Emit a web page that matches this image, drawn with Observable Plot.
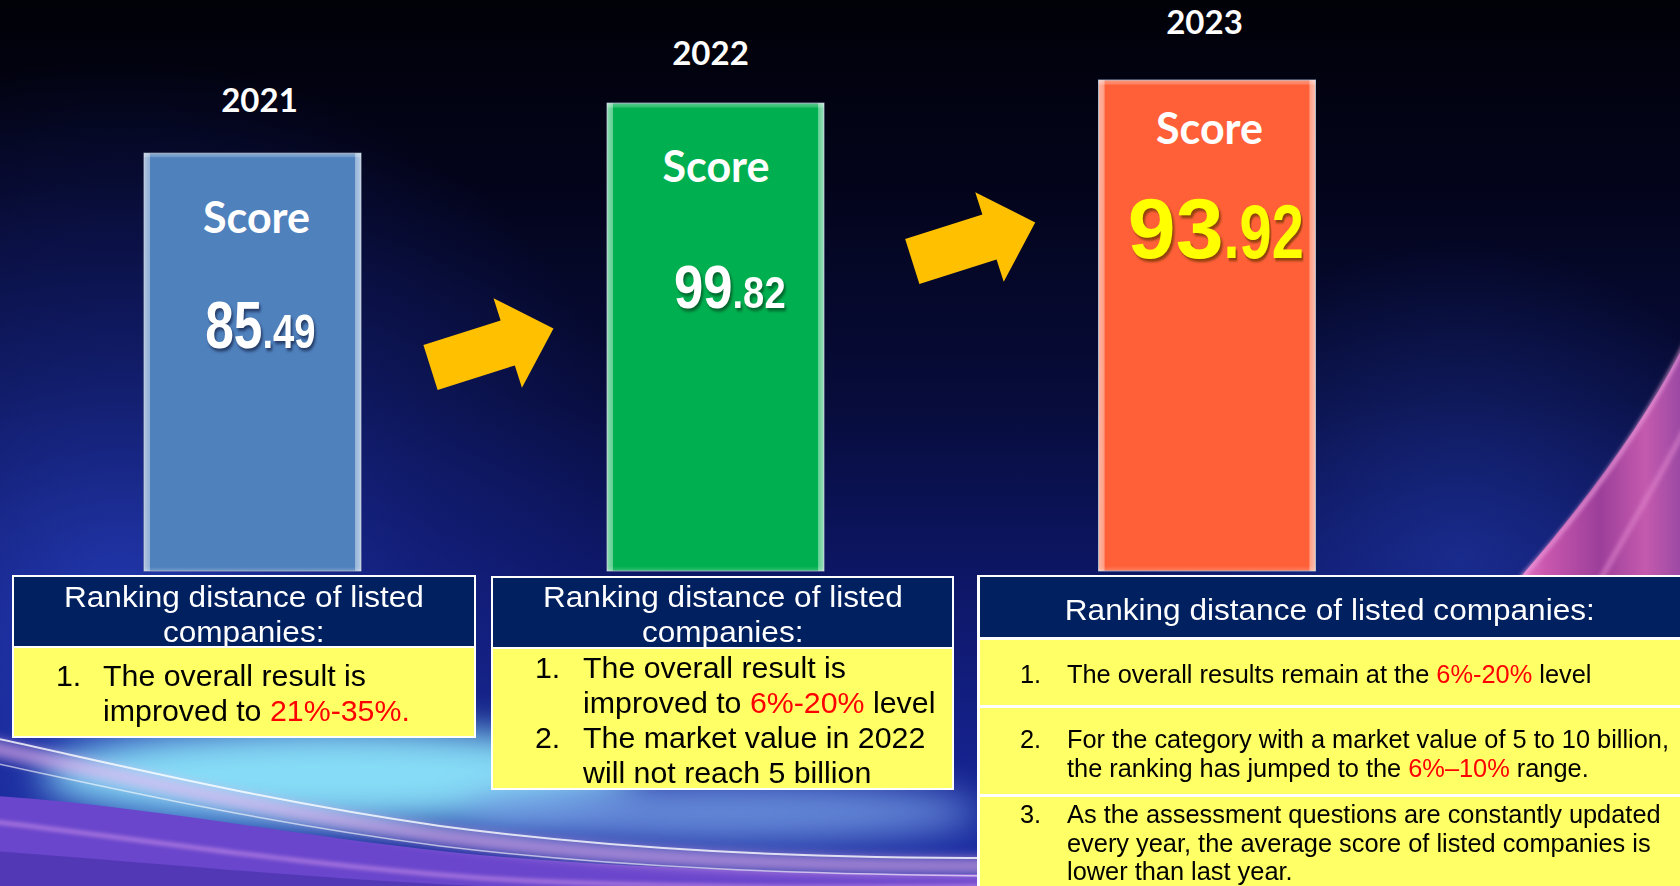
<!DOCTYPE html>
<html><head><meta charset="utf-8">
<script src="https://cdn.jsdelivr.net/npm/d3@7"></script>
<script src="https://cdn.jsdelivr.net/npm/@observablehq/plot@0.6"></script>
<style>
html,body{margin:0;padding:0;background:#02030a;overflow:hidden}
#slide{position:relative;width:1680px;height:886px;overflow:hidden}
#bg{position:absolute;left:0;top:0}
#chart{position:absolute;left:0;top:0}
#notes{position:absolute;left:0;top:575px;width:1680px;height:311px}
</style></head><body>
<div id="slide">
<svg id="bg" width="1680" height="886" xmlns="http://www.w3.org/2000/svg">
<defs>
 <linearGradient id="bgBase" x1="0" y1="0" x2="0" y2="1">
  <stop offset="0" stop-color="#010108"/>
  <stop offset="0.2" stop-color="#03041a"/>
  <stop offset="0.45" stop-color="#070c3a"/>
  <stop offset="0.65" stop-color="#0d1665"/>
  <stop offset="0.85" stop-color="#15228c"/>
  <stop offset="1" stop-color="#1c2ea6"/>
 </linearGradient>
 <radialGradient id="glowL" gradientUnits="userSpaceOnUse" cx="120" cy="620" r="560">
  <stop offset="0" stop-color="#2a44c8" stop-opacity="0.75"/>
  <stop offset="0.6" stop-color="#1b2c9c" stop-opacity="0.35"/>
  <stop offset="1" stop-color="#1b2c9c" stop-opacity="0"/>
 </radialGradient>
 <radialGradient id="glowR" gradientUnits="userSpaceOnUse" cx="1460" cy="560" r="320">
  <stop offset="0" stop-color="#2540b8" stop-opacity="0.5"/>
  <stop offset="1" stop-color="#2540b8" stop-opacity="0"/>
 </radialGradient>
 <linearGradient id="pinkBand" x1="0" y1="0" x2="1" y2="0">
  <stop offset="0" stop-color="#e47ccb"/>
  <stop offset="0.15" stop-color="#c957ae"/>
  <stop offset="0.45" stop-color="#9c3f9a"/>
  <stop offset="0.7" stop-color="#c45aae"/>
  <stop offset="1" stop-color="#86409f"/>
 </linearGradient>
 <linearGradient id="bevelH" x1="0" x2="1" y1="0" y2="0">
  <stop offset="0" stop-color="#ffffff" stop-opacity="0.55"/>
  <stop offset="0.026" stop-color="#ffffff" stop-opacity="0.38"/>
  <stop offset="0.03" stop-color="#ffffff" stop-opacity="0"/>
  <stop offset="0.97" stop-color="#ffffff" stop-opacity="0"/>
  <stop offset="0.974" stop-color="#ffffff" stop-opacity="0.4"/>
  <stop offset="1" stop-color="#ffffff" stop-opacity="0.6"/>
 </linearGradient>
 <linearGradient id="bevelV" x1="0" x2="0" y1="0" y2="1">
  <stop offset="0" stop-color="#ffffff" stop-opacity="0.35"/>
  <stop offset="0.008" stop-color="#ffffff" stop-opacity="0.2"/>
  <stop offset="0.011" stop-color="#ffffff" stop-opacity="0"/>
  <stop offset="0.99" stop-color="#ffffff" stop-opacity="0"/>
  <stop offset="1" stop-color="#ffffff" stop-opacity="0.2"/>
 </linearGradient>
 <filter id="b2"><feGaussianBlur stdDeviation="2"/></filter>
 <filter id="b6" x="-20%" y="-50%" width="140%" height="200%"><feGaussianBlur stdDeviation="6"/></filter>
 <filter id="b18" x="-50%" y="-100%" width="200%" height="300%"><feGaussianBlur stdDeviation="18"/></filter>
</defs>
<rect width="1680" height="886" fill="url(#bgBase)"/>
<rect width="1680" height="886" fill="url(#glowL)"/>
<rect width="1680" height="886" fill="url(#glowR)"/>
<path d="M1700,312 C1660,400 1600,485 1518,580 L1700,580 Z" fill="url(#pinkBand)"/>
<path d="M1692,330 C1652,412 1598,494 1521,578" stroke="#f2a0e0" stroke-width="3" fill="none" filter="url(#b2)"/>
<path d="M1710,380 C1675,450 1640,510 1600,580" stroke="#e58ad0" stroke-width="5" fill="none" opacity="0.6" filter="url(#b2)"/>
<ellipse cx="340" cy="775" rx="300" ry="48" fill="#86dcf6" filter="url(#b18)"/>
<ellipse cx="720" cy="812" rx="260" ry="30" fill="#7aa4ea" filter="url(#b18)" opacity="0.8"/>
<path d="M-20,795 C150,805 300,838 480,855 C650,870 820,874 1000,874 L1000,900 L-20,900 Z" fill="#6a46cc"/>
<path d="M-20,850 C150,862 300,878 480,886 L-20,900 Z" fill="#4d34b0" opacity="0.8"/>
<path d="M-20,745 C120,775 260,810 440,836 C620,860 800,866 1000,866" stroke="#f3b6f0" stroke-width="16" fill="none" opacity="0.65" filter="url(#b6)"/>
<path d="M-20,735 C120,765 260,800 440,826 C620,850 800,858 1000,858" stroke="#ffffff" stroke-width="2" fill="none" opacity="0.8"/>
<path d="M-20,760 C120,790 260,822 440,846 C620,868 800,874 1000,876" stroke="#ffffff" stroke-width="1.5" fill="none" opacity="0.6"/>
<path d="M-20,820 C150,840 300,865 480,878 C650,888 820,888 1000,886" stroke="#e9a8f2" stroke-width="3" fill="none" opacity="0.7" filter="url(#b2)"/>
</svg>
<div id="chart"></div>
<div id="notes"></div>
</div>
<script>
// ---------- data ----------
const years = [2021, 2022, 2023];
const scores = [85.49, 99.82, 93.92];
const barLevels = [85.1, 95.3, 100]; // drawn bar height, % of the tallest bar
const scoreLabel = "Score";
const barColors = ["#4f81bd", "#00b050", "#ff6038"];

const noteHeaders = [
  ["Ranking distance of listed", "companies:"],
  ["Ranking distance of listed", "companies:"],
  ["Ranking distance of listed companies:"]
];
const notes2021 = [["The overall result is", "improved to *21%-35%.*"]];
const notes2022 = [["The overall result is", "improved to *6%-20%* level"], ["The market value in 2022", "will not reach 5 billion"]];
const notes2023 = [
  ["The overall results remain at the *6%-20%* level"],
  ["For the category with a market value of 5 to 10 billion,", "the ranking has jumped to the *6%–10%* range."],
  ["As the assessment questions are constantly updated", "every year, the average score of listed companies is", "lower than last year."]
];

// ---------- chart ----------
const data = years.map((year, i) => ({year, score: scores[i], level: barLevels[i]}));
const transitions = years.slice(1).map((y, i) => ({from: years[i], to: y}));

const yearStyle = {
  2021: {yearDx: 6.5, yearDy: -42, scoreDx: 3.5, scoreDy: 79, numDy: 194, splitDx: 9.5, intFs: 66, intK: 0.78, decFs: 49, decK: 0.78, fill: "#ffffff", shadow: "drop-shadow(2px 3px 1.5px rgba(15,25,60,0.65))"},
  2022: {yearDx: -5.5, yearDy: -39, scoreDx: 0, scoreDy: 78, numDy: 204, splitDx: 16.5, intFs: 62, intK: 0.85, decFs: 45, decK: 0.85, fill: "#ffffff", shadow: "drop-shadow(2px 3px 1.5px rgba(0,50,20,0.6))"},
  2023: {yearDx: -3, yearDy: -47, scoreDx: 2, scoreDy: 63, numDy: 177, splitDx: 16, intFs: 86, intK: 1, decFs: 76, decK: 0.76, fill: "#ffff00", shadow: "drop-shadow(2px 3px 1px rgba(110,55,0,0.75))"}
};
const arrowStyle = [{dx: 7.5, dy: 60}, {dx: 12, dy: -46}];

const arrowShape = {
  draw(ctx, l) {
    const hw = 23.5, hh = 47, hl = 48;
    ctx.moveTo(-hw, 0);
    ctx.lineTo(-hw, -(l - hl));
    ctx.lineTo(-hh, -(l - hl));
    ctx.lineTo(0, -l);
    ctx.lineTo(hh, -(l - hl));
    ctx.lineTo(hw, -(l - hl));
    ctx.lineTo(hw, 0);
    ctx.closePath();
  }
};

const barGeom = {x1: "year", x2: "year", y1: 0, y2: "level", insetLeft: -108.5, insetRight: -108.5};
const marks = [
  Plot.rect(data, {...barGeom, fill: "year", stroke: "#8e9cb4", strokeWidth: 1}),
  Plot.rect(data, {...barGeom, fill: "url(#bevelH)"}),
  Plot.rect(data, {...barGeom, fill: "url(#bevelV)"})
];
const numFont = "'Liberation Sans', Arial, sans-serif";
for (const yr of years) {
  const s = yearStyle[yr];
  const d = data.filter(e => e.year === yr);
  marks.push(
    Plot.text(d, {x: "year", y: "level", text: e => String(e.year), dx: s.yearDx, dy: s.yearDy, lineAnchor: "bottom",
      fill: "#ffffff", fontSize: 33, fontWeight: 700, fontFamily: "Lato, 'Open Sans', sans-serif"}),
    Plot.text(d, {x: "year", y: "level", text: () => scoreLabel, dx: s.scoreDx, dy: s.scoreDy, lineAnchor: "bottom",
      fill: "#ffffff", fontSize: 43, fontWeight: 700, fontFamily: "Lato, 'Open Sans', sans-serif"}),
    Plot.text(d, {x: "year", y: "level", text: e => String(Math.trunc(e.score)), dx: s.splitDx, dy: s.numDy, lineAnchor: "bottom",
      textAnchor: "end", fill: s.fill, fontSize: s.intFs, fontWeight: 700, fontFamily: numFont,
      ariaDescription: "int-" + yr, ariaLabel: () => "int-" + yr}),
    Plot.text(d, {x: "year", y: "level", text: e => "." + e.score.toFixed(2).split(".")[1], dx: s.splitDx, dy: s.numDy, lineAnchor: "bottom",
      textAnchor: "start", fill: s.fill, fontSize: s.decFs, fontWeight: 700, fontFamily: numFont,
      ariaDescription: "dec-" + yr, ariaLabel: () => "dec-" + yr})
  );
}
transitions.forEach((t, i) => {
  marks.push(Plot.vector([t], {x: e => (e.from + e.to) / 2, frameAnchor: "middle", length: 129, rotate: 72.4,
    shape: arrowShape, anchor: "middle", fill: "#ffc000", stroke: "none", dx: arrowStyle[i].dx, dy: arrowStyle[i].dy}));
});

const chart = Plot.plot({
  width: 1680, height: 575, margin: 0,
  style: {background: "transparent", overflow: "visible"},
  x: {type: "linear", domain: years, range: [252.5, 715.5, 1207], axis: null},
  y: {domain: [0, 100], range: [571, 80], axis: null},
  color: {type: "ordinal", domain: years, range: barColors},
  marks
});
document.getElementById("chart").appendChild(chart);

// condense number glyphs & add shadows
function squeeze(label, k, shadow) {
  const set = new Set();
  chart.querySelectorAll(`[aria-label="${label}"], [aria-description="${label}"]`).forEach(el => {
    if (el.tagName.toLowerCase() === "text") set.add(el);
    else el.querySelectorAll("text").forEach(t => set.add(t));
  });
  set.forEach(t => {
    t.style.filter = shadow;
    const tr = t.getAttribute("transform");
    if (tr) t.setAttribute("transform", tr + ` scale(${k},1)`);
    else {
      const x = parseFloat(t.getAttribute("x")) || 0, y = parseFloat(t.getAttribute("y")) || 0;
      t.setAttribute("transform", `translate(${x},${y}) scale(${k},1) translate(${-x},${-y})`);
    }
  });
}
for (const yr of years) {
  const s = yearStyle[yr];
  squeeze(`int-${yr}`, s.intK, s.shadow);
  squeeze(`dec-${yr}`, s.decK, s.shadow);
}

// ---------- note boxes (caption below the chart) ----------
const notesEl = document.getElementById("notes");
function block(x, y, w, h, color) {
  const d = document.createElement("div");
  d.style.cssText = `position:absolute;left:${x}px;top:${y}px;width:${w}px;height:${h}px;background:${color}`;
  notesEl.appendChild(d);
}
function rich(el, text) {
  text.split("*").forEach((seg, i) => {
    if (!seg) return;
    const sp = document.createElement("span");
    sp.textContent = seg;
    if (i % 2 === 1) sp.style.color = "#ff0000";
    el.appendChild(sp);
  });
}
function measure(text, fs, family) {
  const sp = document.createElement("span");
  sp.style.cssText = `position:absolute;visibility:hidden;white-space:nowrap;font-size:${fs}px;font-family:${family}`;
  sp.textContent = text.replace(/\*/g, "");
  document.body.appendChild(sp);
  const w = sp.getBoundingClientRect().width;
  sp.remove();
  return w;
}
// one line of text whose baseline sits at `base`
function line(text, {x, base, anchor = "start", fs, family, color, k = 1}) {
  const div = document.createElement("div");
  div.style.cssText = `position:absolute;top:0;left:0;white-space:nowrap;font-size:${fs}px;font-family:${family};color:${color};line-height:1`;
  const m = document.createElement("span");
  m.style.cssText = "display:inline-block;width:0;height:0;vertical-align:baseline";
  div.appendChild(m);
  rich(div, text);
  notesEl.appendChild(div);
  const w = div.getBoundingClientRect().width;
  div.style.left = (anchor === "middle" ? x - w / 2 : x) + "px";
  if (k !== 1) {
    div.style.transformOrigin = anchor === "middle" ? "50% 50%" : "0 50%";
    div.style.transform = `scaleX(${k})`;
  }
  const top0 = notesEl.getBoundingClientRect().top;
  const b = m.getBoundingClientRect().bottom - top0;
  div.style.top = (base - b) + "px";
}
const NAVY = "#002060", YEL = "#ffff66", WHITE = "#ffffff";
const face = "'Liberation Sans', Arial, sans-serif";

// widths of the reference lines fix the horizontal squeeze of the text
const kHead = 360 / measure(noteHeaders[0][0], 30, face);
const kBody = 263 / measure(notes2021[0][0], 29, face);

function listBox(headers, items, {cx, headBase, numX, textX, firstBase, lh}) {
  headers.forEach((t, i) => line(t, {x: cx, base: headBase + 35 * i, anchor: "middle", fs: 30, family: face, color: WHITE, k: kHead}));
  let base = firstBase;
  items.forEach((item, j) => {
    line((j + 1) + ".", {x: numX, base, fs: 29, family: face, color: "#000", k: kBody});
    item.forEach(t => { line(t, {x: textX, base, fs: 29, family: face, color: "#000", k: kBody}); base += lh; });
  });
}
// box 2021
block(12, 0, 464, 163, WHITE); block(14, 2, 460, 69, NAVY); block(14, 73, 460, 88, YEL);
listBox(noteHeaders[0], notes2021, {cx: 244, headBase: 32, numX: 56, textX: 103, firstBase: 111, lh: 35});
// box 2022
block(491, 1, 463, 214, WHITE); block(493, 3, 459, 69, NAVY); block(493, 74, 459, 139, YEL);
listBox(noteHeaders[1], notes2022, {cx: 722.5, headBase: 32, numX: 535, textX: 583, firstBase: 103, lh: 35});
// box 2023
block(977, 0, 720, 330, WHITE); block(980, 2, 720, 60, NAVY);
block(980, 65, 720, 65, YEL); block(980, 133, 720, 86, YEL); block(980, 222, 720, 110, YEL);
{
  const hk = 530 / measure(noteHeaders[2][0], 30, face);
  line(noteHeaders[2][0], {x: 1330, base: 45, anchor: "middle", fs: 30, family: face, color: WHITE, k: hk});
  const bk = 602 / measure(notes2023[1][0], 25, face);
  const firstBase = [108, 173, 248];
  notes2023.forEach((item, j) => {
    line((j + 1) + ".", {x: 1020, base: firstBase[j], fs: 25, family: face, color: "#000", k: bk});
    item.forEach((t, i) => line(t, {x: 1067, base: firstBase[j] + 28.7 * i, fs: 25, family: face, color: "#000", k: bk}));
  });
}
</script>
</body></html>
